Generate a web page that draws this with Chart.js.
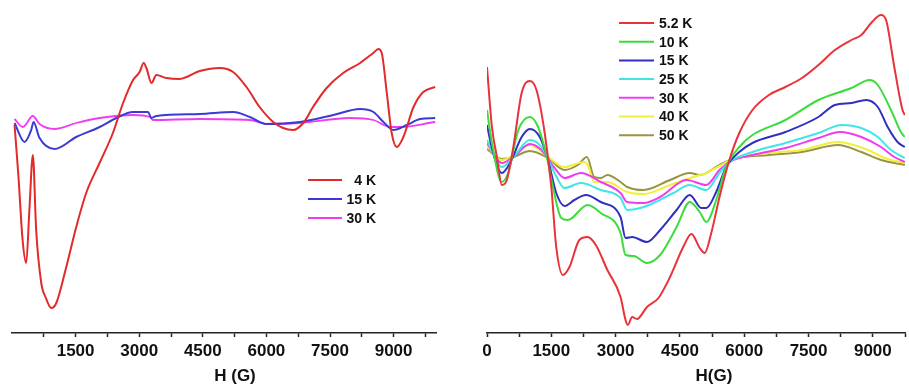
<!DOCTYPE html>
<html>
<head>
<meta charset="utf-8">
<script src="https://cdn.jsdelivr.net/npm/chart.js@4.4.1/dist/chart.umd.min.js"></script>
<style>
  html, body { margin: 0; padding: 0; background: #fff; }
  #wrap { position: relative; width: 909px; height: 385px; overflow: hidden; }
  #leftBox { position: absolute; left: 0; top: 0; width: 455px; height: 385px; }
  #rightBox { position: absolute; left: 455px; top: 0; width: 454px; height: 385px; }
</style>
</head>
<body>
<div id="wrap">
  <div id="leftBox"><canvas id="leftChart" width="455" height="385"></canvas></div>
  <div id="rightBox"><canvas id="rightChart" width="454" height="385"></canvas></div>
</div>
<script>
// ---- left panel: field (G) and signal (a.u.) ----
const hL4 = [60, 150, 250, 335, 410, 492, 570, 690, 800, 925, 1045, 1280, 1515, 1750, 2065, 2380, 2620, 2855, 3010, 3105, 3170, 3290, 3405, 3640, 3955, 4430, 4900, 5215, 5530, 5840, 6160, 6395, 6630, 6870, 7100, 7420, 7810, 8210, 8520, 8640, 8720, 8840, 8955, 9075, 9230, 9470, 9700, 9980];
const sL4 = [-5, -55, -120, -143, -90, -35, -110, -163, -178, -188, -183, -147, -107, -73, -43, -13, 17, 40, 48, 57, 52, 37, 45, 42, 41, 49, 52, 48, 33, 13, -2, -8, -10, -3, 13, 32, 47, 57, 67, 71, 67, 27, -13, -27, -17, 13, 28, 33];
const hL15 = [60, 295, 453, 508, 650, 1004, 1516, 2067, 2461, 2855, 3209, 3287, 3406, 4429, 5217, 5610, 6004, 6791, 7579, 8209, 8524, 8760, 8996, 9311, 9626, 9980];
const sL15 = [-3, -22, -10, -2, -18, -29, -17, -7, 2, 8, 8, 2, 4, 6, 8, 3, -4, -2, 5, 11, 8, -2, -10, -5, 1, 2];
const hL30 = [60, 256, 492, 650, 1004, 1516, 2067, 2855, 3248, 3327, 4429, 5610, 6004, 6791, 7972, 8524, 8917, 9154, 9980];
const sL30 = [1, -7, 4, -4, -9, -3, 2, 5, 3, 0, 1, 0, -4, -3, 2, 0, -7, -7, -2];
const labelsL = ['4 K', '15 K', '30 K'];

// ---- right panel ----
const hR52 = [0, 115, 231, 346, 462, 615, 808, 1000, 1154, 1346, 1500, 1615, 1769, 1923, 2154, 2346, 2538, 2808, 3115, 3231, 3285, 3385, 3500, 3731, 4000, 4269, 4577, 4769, 4962, 5077, 5231, 5423, 5654, 5885, 6192, 6577, 6961, 7346, 7731, 8115, 8500, 8731, 8961, 9192, 9308, 9500, 9692, 9746];
const sR52 = [93, 33, 3, -25, -20, 13, 67, 79, 70, 27, -27, -87, -115, -107, -80, -77, -85, -110, -137, -160, -165, -157, -159, -147, -138, -117, -87, -74, -88, -93, -73, -37, 0, 27, 50, 65, 73, 82, 95, 110, 120, 125, 137, 145, 140, 93, 50, 45];
const hR10 = [0, 115, 346, 500, 731, 1000, 1192, 1385, 1538, 1731, 1885, 2346, 2654, 3115, 3231, 3423, 3731, 4038, 4423, 4731, 4962, 5115, 5346, 5577, 5885, 6192, 6961, 7731, 8500, 8923, 9115, 9423, 9654, 9746];
const sR10 = [50, 17, -22, -12, 30, 43, 33, 5, -27, -58, -60, -45, -53, -73, -95, -96, -103, -95, -67, -42, -52, -62, -40, -7, 13, 25, 40, 60, 72, 80, 75, 50, 28, 23];
const hR15 = [0, 115, 346, 538, 808, 1000, 1231, 1423, 1615, 1808, 2038, 2308, 2654, 3115, 3231, 3385, 3731, 4038, 4423, 4731, 5000, 5115, 5346, 5577, 5885, 6192, 6961, 7731, 8115, 8500, 8846, 9115, 9346, 9577, 9746];
const sR15 = [35, 12, -13, -3, 23, 31, 23, 0, -33, -46, -40, -35, -42, -57, -78, -77, -82, -70, -50, -35, -48, -48, -32, -7, 8, 17, 28, 43, 55, 57, 60, 53, 33, 18, 13];
const hR25 = [0, 346, 615, 1000, 1269, 1577, 1808, 2192, 2654, 3115, 3269, 3577, 3885, 4346, 4731, 5115, 5423, 5654, 6192, 6961, 7731, 8269, 8731, 9115, 9423, 9746];
const sR25 = [20, -7, 3, 20, 13, -13, -28, -23, -30, -38, -50, -48, -43, -33, -25, -30, -13, -2, 8, 17, 27, 35, 32, 23, 10, 2];
const hR30 = [0, 346, 615, 1000, 1269, 1577, 1808, 2192, 2654, 3115, 3269, 3654, 4038, 4654, 5115, 5423, 5654, 6192, 6961, 7731, 8231, 8731, 9192, 9500, 9746];
const sR30 = [17, -3, 3, 16, 10, -8, -18, -13, -22, -33, -42, -43, -37, -20, -25, -10, -2, 5, 12, 22, 28, 23, 13, 3, -2];
const hR40 = [0, 346, 615, 1000, 1423, 1808, 2269, 2360, 2500, 2808, 3269, 3654, 4269, 4808, 5115, 5423, 5731, 6577, 7346, 8192, 8885, 9269, 9746];
const sR40 = [14, 0, 5, 15, 3, -7, -2, -6, -22, -22, -32, -34, -25, -17, -13, -6, 1, 7, 10, 18, 10, 2, -3];
const hR50 = [0, 346, 615, 1000, 1423, 1808, 2115, 2331, 2500, 2654, 2808, 3115, 3269, 3654, 4269, 4731, 4962, 5423, 5731, 6577, 7346, 8192, 8731, 9192, 9746];
const sR50 = [11, 1, 3, 9, 2, -10, -5, 3, -17, -18, -15, -22, -27, -30, -20, -13, -15, -5, 1, 5, 8, 15, 8, 0, -5];
const labelsR = ['5.2 K', '10 K', '15 K', '25 K', '30 K', '40 K', '50 K'];

// x ticks every 750 G, labels every 1500 G
const tickValues = [0, 750, 1500, 2250, 3000, 3750, 4500, 5250, 6000, 6750, 7500, 8250, 9000, 9750];

const pairs = (h, s) => h.map((x, i) => ({ x: x, y: s[i] }));

function line(label, h, s, color, width) {
  return {
    label: label,
    data: pairs(h, s),
    borderColor: color,
    backgroundColor: color,
    borderWidth: width,
    pointRadius: 0,
    fill: false,
    cubicInterpolationMode: 'monotone'
  };
}

// legend + axis title drawn inside the plot
const panelText = {
  id: 'panelText',
  afterDraw(chart, args, opts) {
    const ctx = chart.ctx;
    ctx.save();
    const lg = opts.legend;
    ctx.font = 'bold 14px "Liberation Sans", Arial, sans-serif';
    ctx.textBaseline = 'middle';
    chart.data.datasets.forEach((ds, i) => {
      const y = lg.y + i * lg.step;
      ctx.strokeStyle = ds.borderColor;
      ctx.lineWidth = 2;
      ctx.beginPath();
      ctx.moveTo(lg.x, y);
      ctx.lineTo(lg.x + lg.len, y);
      ctx.stroke();
      ctx.fillStyle = '#111';
      ctx.textAlign = lg.align;
      ctx.fillText(ds.label, lg.textX, y + 1);
    });
    ctx.font = 'bold 17px "Liberation Sans", Arial, sans-serif';
    ctx.textAlign = 'center';
    ctx.fillStyle = '#111';
    ctx.fillText(opts.title.text, opts.title.x, opts.title.y);
    ctx.restore();
  }
};

function makeOptions(xMax, pad, yMin, yMax, showZero, textOpts) {
  return {
    responsive: false,
    animation: false,
    layout: { padding: pad },
    plugins: { legend: { display: false }, tooltip: { enabled: false }, panelText: textOpts },
    scales: {
      x: {
        type: 'linear',
        min: 0,
        max: xMax,
        afterBuildTicks: (scale) => {
          scale.ticks = tickValues.filter(v => v <= xMax && (v !== 0 || showZero)).map(v => ({ value: v }));
        },
        afterFit: (scale) => { scale.height = 52; },
        border: { display: true, color: '#222', width: 1.5 },
        grid: {
          drawOnChartArea: false,
          drawTicks: true,
          tickLength: 4,
          tickWidth: 1.5,
          tickColor: '#222'
        },
        ticks: {
          autoSkip: false,
          maxRotation: 0,
          minRotation: 0,
          padding: 4,
          color: '#111',
          font: { family: '"Liberation Sans", Arial, sans-serif', size: 17, weight: 'bold' },
          callback: (v) => (v % 1500 === 0) ? String(v) : ''
        }
      },
      y: { display: false, min: yMin, max: yMax }
    }
  };
}

new Chart(document.getElementById('leftChart'), {
  type: 'line',
  data: {
    datasets: [
      line(labelsL[0], hL4, sL4, '#e22a2a', 2),
      line(labelsL[1], hL15, sL15, '#3a3ad6', 2),
      line(labelsL[2], hL30, sL30, '#f03cf0', 1.8)
    ]
  },
  options: makeOptions(10000, { left: 12, right: 19, top: 0, bottom: 0 }, -213, 120, false, {
    legend: { x: 308, y: 180, step: 19, len: 34, textX: 376, align: 'right' },
    title: { text: 'H (G)', x: 235, y: 376 }
  }),
  plugins: [panelText]
});

new Chart(document.getElementById('rightChart'), {
  type: 'line',
  data: {
    datasets: [
      line(labelsR[0], hR52, sR52, '#e8333a', 2),
      line(labelsR[1], hR10, sR10, '#3ddc3d', 2),
      line(labelsR[2], hR15, sR15, '#3030c0', 2),
      line(labelsR[3], hR25, sR25, '#40e6e6', 2),
      line(labelsR[4], hR30, sR30, '#f03cf0', 2),
      line(labelsR[5], hR40, sR40, '#f0f03c', 2),
      line(labelsR[6], hR50, sR50, '#9a9440', 2)
    ]
  },
  options: makeOptions(9750, { left: 32, right: 0, top: 0, bottom: 0 }, -173, 160, true, {
    legend: { x: 164, y: 23, step: 18.7, len: 35, textX: 204, align: 'left' },
    title: { text: 'H(G)', x: 259, y: 376 }
  }),
  plugins: [panelText]
});
</script>
</body>
</html>
